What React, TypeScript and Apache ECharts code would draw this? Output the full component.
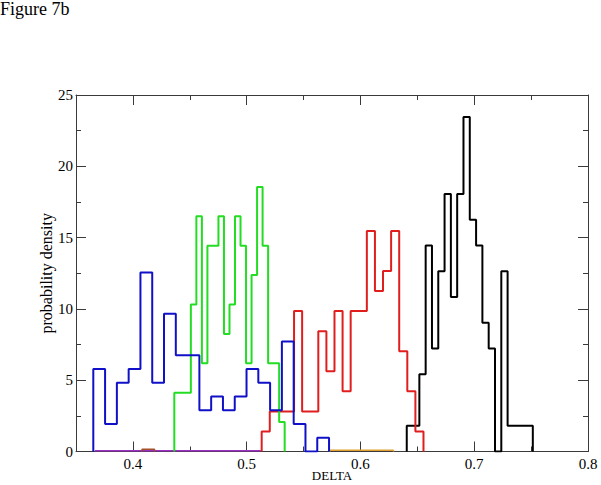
import React, { useEffect, useRef } from "react";
import * as echarts from "echarts";

// Histogram data: 100 samples per set, 20 bins each
const SAMPLES = 100;
const blueStart = 0.3652;
const blueWidth = 0.01036;
const blueCounts = [6, 2, 5, 6, 13, 5, 10, 7, 7, 3, 4, 3, 4, 6, 5, 3, 8, 2, 0, 1];
const greenStart = 0.4364;
const greenWidth = 0.00485;
const greenCounts = [2, 2, 2, 5, 8, 3, 7, 7, 8, 4, 5, 8, 7, 3, 6, 9, 7, 3, 3, 1];
const redStart = 0.5132;
const redWidth = 0.00711;
const redCounts = [1, 2, 2, 2, 7, 2, 2, 6, 4, 7, 3, 7, 7, 11, 8, 9, 11, 5, 3, 1];
const blackStart = 0.6407;
const blackWidth = 0.00554;
const blackCounts = [1, 1, 3, 8, 4, 7, 10, 6, 10, 13, 9, 8, 5, 4, 0, 7, 1, 1, 1, 1];

// near-zero sets lying along the baseline
const violetEdges = [0.367, 0.512];
const violetDensity = [0.06];
const brownEdges = [0.408, 0.419];
const brownDensity = [0.15];
const orangeEdges = [0.573, 0.629];
const orangeDensity = [0.08];

const xMajorTicks = [0.4, 0.5, 0.6, 0.7, 0.8];
const xMinorTicks = [0.45, 0.55, 0.65, 0.75];

function histPoints(start: number, width: number, counts: number[]) {
  const pts: number[][] = [[start, 0]];
  counts.forEach((c, i) => {
    const d = c / (SAMPLES * width);
    pts.push([start + i * width, d]);
    pts.push([start + (i + 1) * width, d]);
  });
  pts.push([start + counts.length * width, 0]);
  return pts;
}

function edgePoints(edges: number[], dens: number[]) {
  const pts: number[][] = [[edges[0], 0]];
  dens.forEach((d, i) => {
    pts.push([edges[i], d]);
    pts.push([edges[i + 1], d]);
  });
  pts.push([edges[edges.length - 1], 0]);
  return pts;
}

const serif = "Liberation Serif";
const frameColor = "#3a3a3a";

export default function App() {
  const ref = useRef<HTMLDivElement>(null);
  useEffect(() => {
    if (!ref.current) return;
    const chart = echarts.init(ref.current, undefined, { renderer: "svg" });
    const axisLine = { show: true, lineStyle: { color: frameColor, width: 1 } };
    const mkSeries = (name: string, color: string, data: number[][], width = 2) => ({
      name,
      type: "line",
      data,
      showSymbol: false,
      symbol: "none",
      lineStyle: { color, width },
      itemStyle: { color },
      z: 3,
    });
    const xBase = { type: "value", min: 0.35, max: 0.8, interval: 0.05, splitLine: { show: false } };
    const yBase = { type: "value", min: 0, max: 25, interval: 5, splitLine: { show: false } };
    chart.setOption({
      animation: false,
      backgroundColor: "#fff",
      title: {
        text: "Figure 7b",
        left: 0,
        top: 0,
        padding: 0,
        textStyle: { fontFamily: serif, fontSize: 18, fontWeight: "normal", color: "#000" },
      },
      grid: { left: 76, right: 13, top: 95, bottom: 33.5, containLabel: false, outerBoundsMode: "none" },
      xAxis: [
        {
          ...xBase,
          position: "bottom",
          name: "DELTA",
          nameLocation: "middle",
          nameGap: 17,
          nameMoveOverlap: false,
          nameTextStyle: { fontFamily: serif, fontSize: 13, color: "#000", verticalAlign: "top" },
          axisLine,
          axisTick: { show: true, inside: true, length: 10, customValues: xMajorTicks, lineStyle: { color: frameColor } },
          axisLabel: {
            fontFamily: serif,
            fontSize: 15,
            color: "#000",
            margin: 5,
            customValues: xMajorTicks,
            formatter: (v: number) => String(Math.round(v * 10) / 10),
          },
        },
        {
          ...xBase,
          position: "bottom",
          axisLine: { show: false },
          axisTick: { show: true, inside: true, length: 5, customValues: xMinorTicks, lineStyle: { color: frameColor } },
          axisLabel: { show: false },
        },
        {
          ...xBase,
          position: "top",
          axisLine,
          axisTick: { show: true, inside: true, length: 10, customValues: xMajorTicks, lineStyle: { color: frameColor } },
          axisLabel: { show: false },
        },
        {
          ...xBase,
          position: "top",
          axisLine: { show: false },
          axisTick: { show: true, inside: true, length: 5, customValues: xMinorTicks, lineStyle: { color: frameColor } },
          axisLabel: { show: false },
        },
      ],
      yAxis: [
        {
          ...yBase,
          position: "left",
          name: "probability density",
          nameLocation: "middle",
          nameGap: 22,
          nameRotate: 90,
          nameMoveOverlap: false,
          nameTextStyle: { fontFamily: serif, fontSize: 16, color: "#000" },
          axisLine,
          axisTick: { show: true, inside: true, length: 10, lineStyle: { color: frameColor } },
          minorTick: { show: true, splitNumber: 2, length: 5, lineStyle: { color: frameColor } },
          axisLabel: { fontFamily: serif, fontSize: 15, color: "#000", margin: 3 },
          minorSplitLine: { show: false },
        },
        {
          ...yBase,
          position: "right",
          axisLine,
          axisTick: { show: true, inside: true, length: 10, lineStyle: { color: frameColor } },
          minorTick: { show: true, splitNumber: 2, length: 5, lineStyle: { color: frameColor } },
          axisLabel: { show: false },
          minorSplitLine: { show: false },
        },
      ],
      series: [
        mkSeries("violet", "#9a2fc0", edgePoints(violetEdges, violetDensity), 1.5),
        mkSeries("brown", "#a5502a", edgePoints(brownEdges, brownDensity), 1.5),
        mkSeries("orange", "#e0a030", edgePoints(orangeEdges, orangeDensity), 1.5),
        mkSeries("black", "#000000", histPoints(blackStart, blackWidth, blackCounts)),
        mkSeries("red", "#e01e1e", histPoints(redStart, redWidth, redCounts)),
        mkSeries("green", "#22dd22", histPoints(greenStart, greenWidth, greenCounts)),
        mkSeries("blue", "#1010c8", histPoints(blueStart, blueWidth, blueCounts)),
      ],
    });
    return () => chart.dispose();
  }, []);
  return (
    <div
      ref={ref}
      style={{ position: "fixed", left: 0, top: 0, width: 601, height: 485, background: "#fff" }}
    />
  );
}
